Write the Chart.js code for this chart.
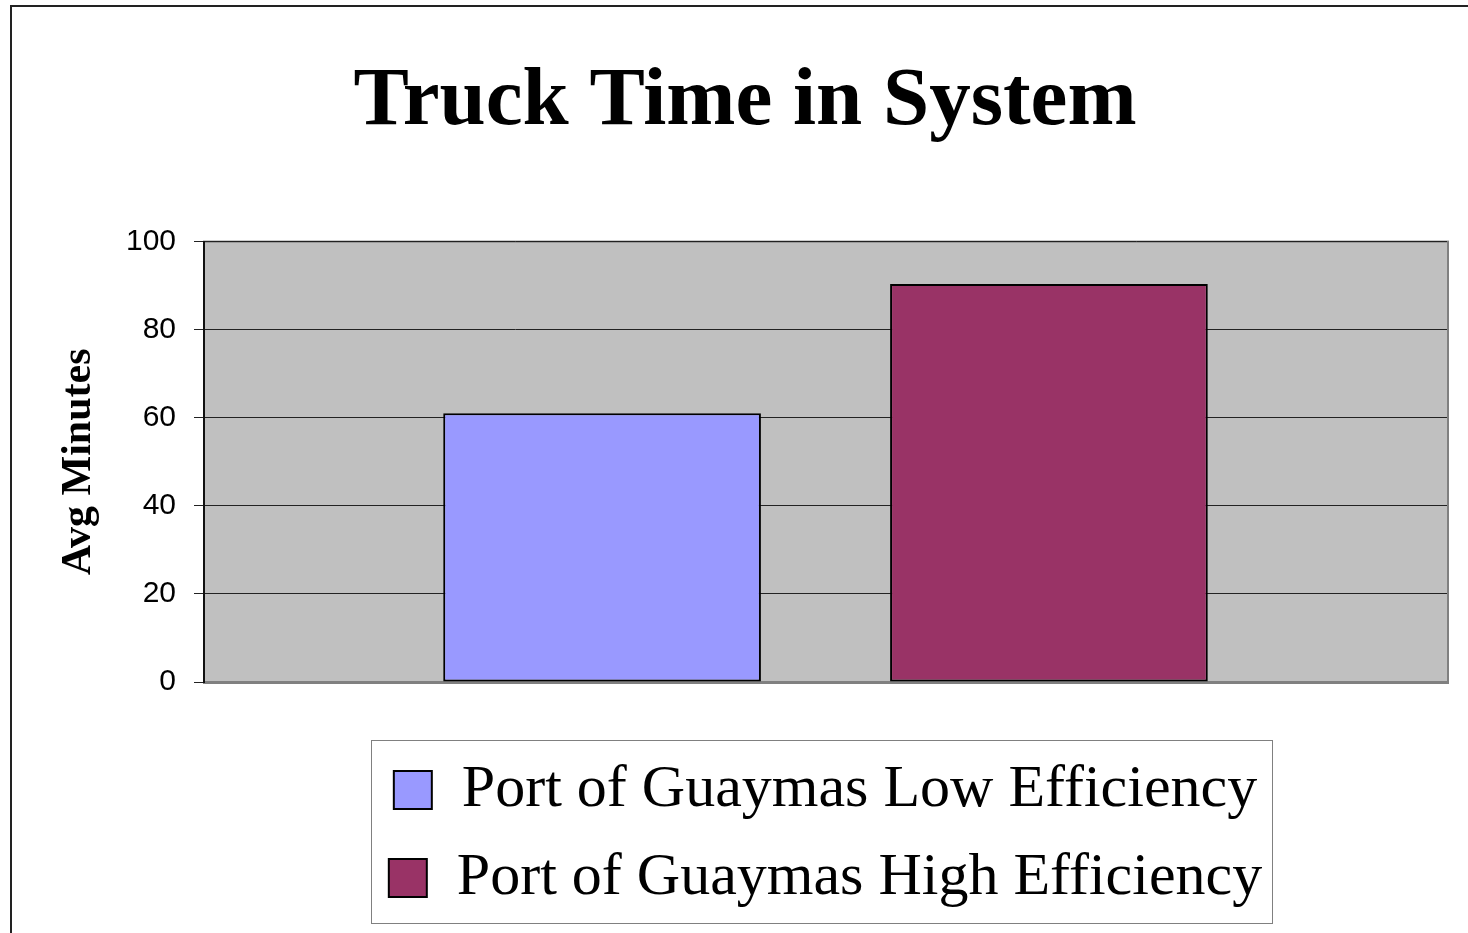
<!DOCTYPE html>
<html>
<head>
<meta charset="utf-8">
<title>Truck Time in System</title>
<script src="https://cdn.jsdelivr.net/npm/chart.js@4.4.1/dist/chart.umd.min.js"></script>
<style>
  html, body { margin: 0; padding: 0; background: #fff; }
  #wrap { width: 1468px; height: 933px; position: relative; }
</style>
</head>
<body>
<div id="wrap"><canvas id="chart-truck"></canvas></div>
<script>
// data
const categories = [''];
const seriesNames = ['Port of Guaymas Low Efficiency', 'Port of Guaymas High Efficiency'];
const lowEfficiency = [61];
const highEfficiency = [90.4];
const yTicks = [0, 20, 40, 60, 80, 100];

const canvas = document.getElementById('chart-truck');

// gray plot area, outer frame and the box round the legend
const excelLook = {
  id: 'excelLook',
  beforeDraw(chart) {
    const ctx = chart.ctx;
    const a = chart.chartArea;
    ctx.save();
    ctx.fillStyle = '#fff';
    ctx.fillRect(0, 0, chart.width, chart.height);
    ctx.strokeStyle = '#222';
    ctx.lineWidth = 2;
    ctx.strokeRect(11, 6, chart.width + 20, chart.height + 20);
    ctx.fillStyle = '#c0c0c0';
    ctx.fillRect(a.left, a.top, a.right - a.left, a.bottom - a.top);
    ctx.strokeStyle = '#808080';
    ctx.lineWidth = 2;
    ctx.strokeRect(a.left, a.top, a.right - a.left + 1, a.bottom - a.top + 1);
    ctx.restore();
  },
  afterDraw(chart) {
    const boxes = chart.legend.legendHitBoxes;
    if (!boxes || !boxes.length) return;
    let l = Infinity, r = -Infinity, t = Infinity, b = -Infinity;
    boxes.forEach(h => {
      l = Math.min(l, h.left); r = Math.max(r, h.left + h.width);
      t = Math.min(t, h.top); b = Math.max(b, h.top + h.height);
    });
    const ctx = chart.ctx;
    ctx.save();
    ctx.strokeStyle = '#808080';
    ctx.lineWidth = 1;
    ctx.strokeRect(Math.round(l - 18) + 0.5, Math.round(t - 20) + 0.5, Math.round(r - l + 28), Math.round(b - t + 35));
    ctx.restore();
  }
};

new Chart(canvas, {
  type: 'bar',
  data: {
    labels: categories,
    datasets: [{
      label: seriesNames[0],
      data: lowEfficiency,
      backgroundColor: '#9999ff',
      borderColor: '#000',
      borderWidth: 2,
      borderSkipped: false
    }, {
      label: seriesNames[1],
      data: highEfficiency,
      backgroundColor: '#993366',
      borderColor: '#000',
      borderWidth: 2,
      borderSkipped: false
    }]
  },
  options: {
    responsive: true,
    maintainAspectRatio: false,
    animation: false,
    datasets: {
      bar: { categoryPercentage: 0.719, barPercentage: 0.711 }
    },
    layout: { padding: { left: 43, right: 21, top: 0, bottom: 15 } },
    plugins: {
      tooltip: { enabled: false },
      title: {
        display: true,
        text: 'Truck Time in System',
        color: '#000',
        font: { family: '"Liberation Serif", "Times New Roman", serif', size: 83, weight: 'bold', lineHeight: 1.2 },
        padding: { top: 53, bottom: 89 }
      },
      legend: {
        position: 'bottom',
        fullSize: false,
        labels: {
          color: '#000',
          boxWidth: 38,
          boxHeight: 38,
          padding: 28,
          font: { family: '"Liberation Serif", "Times New Roman", serif', size: 60 }
        }
      }
    },
    scales: {
      x: {
        grid: { display: false },
        border: { display: true, color: '#808080', width: 2 },
        ticks: { display: false },
        afterFit(scale) { scale.height = 50; }
      },
      y: {
        min: 0,
        max: 100,
        afterBuildTicks(scale) { scale.ticks = yTicks.map(v => ({ value: v })); },
        grid: { color: '#222', lineWidth: 1, tickLength: 10, drawOnChartArea: true },
        border: { display: true, color: '#111', width: 2 },
        ticks: {
          color: '#000',
          padding: 18,
          font: { family: '"Liberation Sans", Arial, sans-serif', size: 30 }
        },
        title: {
          display: true,
          text: 'Avg Minutes',
          color: '#000',
          font: { family: '"Liberation Serif", "Times New Roman", serif', size: 42, weight: 'bold', lineHeight: 1.2 },
          padding: { top: 11, bottom: 0 }
        },
        afterFit(scale) { scale.width = 161; }
      }
    }
  },
  plugins: [excelLook]
});
</script>
</body>
</html>
